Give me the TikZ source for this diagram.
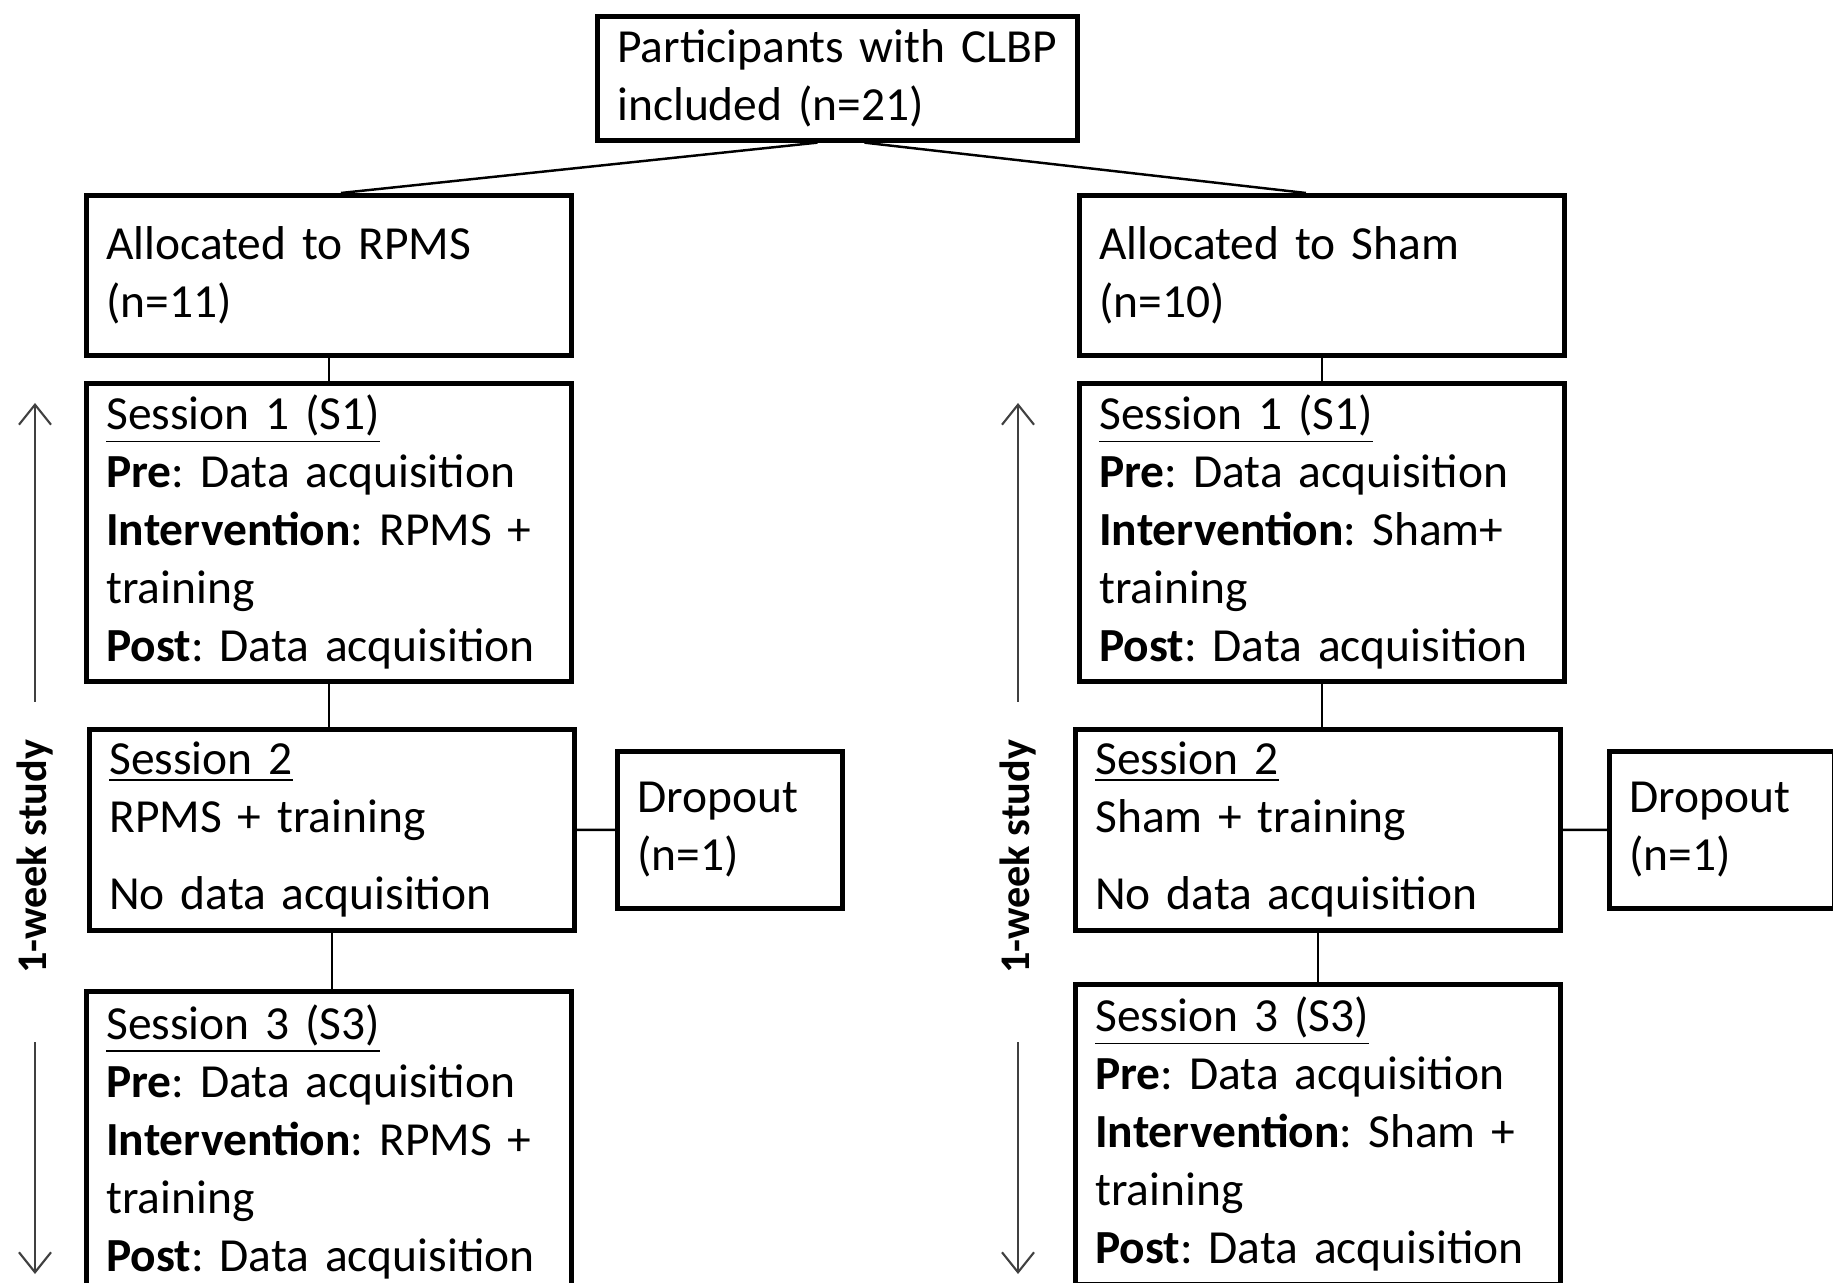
\documentclass[tikz,border=0pt]{standalone}
\usepackage{fontspec}
\setmainfont{Carlito}
\usetikzlibrary{arrows.meta}
\frenchspacing
\begin{document}
\begin{tikzpicture}[x=.01cm,y=-.01cm,
  box/.style={draw,line width=1.3pt,anchor=north west,align=left,inner xsep=.2cm,inner ysep=.05cm,font=\fontsize{13.5}{16.5}\selectfont},
  sbox/.style={box,minimum width=4.85cm,text width=4.45cm},
  dbox/.style={box,minimum width=2.25cm,text width=1.85cm},
  link/.style={line width=.7pt},
  wk/.style={-{Straight Barb[length=.2cm,width=.32cm]},line width=.6pt,black!75},
  wklabel/.style={rotate=90,font=\bfseries\fontsize{12}{14}\selectfont}]
  \useasboundingbox (0,0) rectangle (1833,1283);
  % top and allocation
  \node[box,minimum width=4.8cm,text width=4.4cm,minimum height=1.24cm] (top) at (595,14) {Participants with CLBP\\included (n=21)};
  \node[sbox,minimum height=1.6cm] (allocL) at (84,193) {Allocated to RPMS\\(n=11)};
  \node[sbox,minimum height=1.6cm] (allocR) at (1077,193) {Allocated to Sham\\(n=10)};
  % RPMS arm
  \node[sbox,minimum height=2.98cm] (s1L) at (84,381) {\underline{Session 1 (S1)}\\\textbf{Pre}: Data acquisition\\\textbf{Intervention}: RPMS +\\training\\\textbf{Post}: Data acquisition};
  \node[sbox,minimum height=2.01cm] (s2L) at (87,727) {\underline{Session 2}\\RPMS + training\\[.19cm]No data acquisition};
  \node[dbox,minimum height=1.57cm] (dropL) at (615,749) {Dropout\\(n=1)};
  \node[sbox,minimum height=3.01cm] (s3L) at (84,989) {\underline{Session 3 (S3)}\\\textbf{Pre}: Data acquisition\\\textbf{Intervention}: RPMS +\\training\\\textbf{Post}: Data acquisition};
  % Sham arm
  \node[sbox,minimum height=2.98cm] (s1R) at (1077,381) {\underline{Session 1 (S1)}\\\textbf{Pre}: Data acquisition\\\textbf{Intervention}: Sham+\\training\\\textbf{Post}: Data acquisition};
  \node[sbox,minimum height=2.01cm] (s2R) at (1073,727) {\underline{Session 2}\\Sham + training\\[.19cm]No data acquisition};
  \node[dbox,minimum height=1.57cm] (dropR) at (1607,749) {Dropout\\(n=1)};
  \node[sbox,minimum height=3cm] (s3R) at (1073,982) {\underline{Session 3 (S3)}\\\textbf{Pre}: Data acquisition\\\textbf{Intervention}: Sham +\\training\\\textbf{Post}: Data acquisition};
  % connectors
  \draw[link] ([xshift=-.2cm]top.south) -- ([xshift=.12cm]allocL.north);
  \draw[link] ([xshift=.27cm]top.south) -- ([xshift=-.16cm]allocR.north);
  \draw[link] (allocL.south) -- (s1L.north) (s1L.south) -- (s1L.south |- s2L.north) (s2L.south) -- (s2L.south |- s3L.north);
  \draw[link] (allocR.south) -- (s1R.north) (s1R.south) -- (s1R.south |- s2R.north) (s2R.south) -- (s2R.south |- s3R.north);
  \draw[link] (s2L.east) -- (dropL.west) (s2R.east) -- (dropR.west);
  % study length
  \node[wklabel] (weekL) at (35,857) {1-week study};
  \node[wklabel] (weekR) at (1018,857) {1-week study};
  \coordinate (upL) at (35,403); \coordinate (dnL) at (35,1274);
  \coordinate (upR) at (1018,403); \coordinate (dnR) at (1018,1274);
  \draw[wk,shorten <=.26cm] (weekL.east) -- (upL); \draw[wk,shorten <=.56cm] (weekL.west) -- (dnL);
  \draw[wk,shorten <=.26cm] (weekR.east) -- (upR); \draw[wk,shorten <=.56cm] (weekR.west) -- (dnR);
\end{tikzpicture}
\end{document}
